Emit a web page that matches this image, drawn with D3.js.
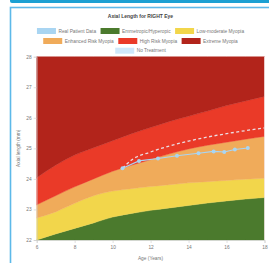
<!DOCTYPE html>
<html><head><meta charset="utf-8">
<script src="https://cdn.jsdelivr.net/npm/d3@7"></script>
<style>html,body{margin:0;padding:0;background:#fff;overflow:hidden}svg{display:block}</style>
</head><body>
<svg id="c" width="269" height="263"></svg>
<script>
const ages = [6,7,8,9,10,11,12,13,14,15,16,17,18];
const emmetropicTop = [22.0,22.2,22.38,22.56,22.75,22.87,22.97,23.05,23.13,23.21,23.28,23.34,23.39];
const lowModerateTop = [22.72,22.92,23.2,23.45,23.6,23.68,23.75,23.81,23.87,23.91,23.95,23.99,24.02];
const enhancedRiskTop = [23.15,23.45,23.74,24.0,24.25,24.45,24.63,24.82,24.98,25.1,25.2,25.3,25.39];
const highRiskTop = [24.04,24.45,24.78,25.02,25.25,25.48,25.68,25.88,26.05,26.22,26.4,26.55,26.7];
const patientAges = [10.52,11.39,12.39,13.39,14.52,15.32,15.88,16.44,17.12];
const patientValues = [24.35,24.59,24.67,24.76,24.84,24.90,24.88,24.96,25.01];
const noTreatAges = [10.52,11,12,13,14,15,16,17,18];
const noTreatValues = [24.35,24.62,24.88,25.08,25.24,25.37,25.48,25.58,25.67];
const xTicks = [6,8,10,12,14,16,18];
const yTicks = [22,23,24,25,26,27,28];
const legendRows = [
  [["Real Patient Data","#a9d5f2"],["Emmetropic/Hyperopic","#4b7a2d"],["Low-moderate Myopia","#f2d64b"]],
  [["Enhanced Risk Myopia","#f0ab5a"],["High Risk Myopia","#ea3a28"],["Extreme Myopia","#b2241b"]],
  [["No Treatment","#cfe8fb"]]
];
const title = "Axial Length for RIGHT Eye";

const svg = d3.select("#c");
const FONT = "Liberation Sans, Arial, sans-serif";
// page chrome
svg.append("rect").attr("x",10).attr("y",-4).attr("width",270).attr("height",7).attr("rx",2).attr("fill","#1aa0d3");
svg.append("rect").attr("x",10.5).attr("y",7.5).attr("width",270).attr("height",270).attr("fill","none").attr("stroke","#5db9e9").attr("stroke-width",1.6);

const x = d3.scaleLinear().domain([6,18]).range([36.7,264.5]);
const y = d3.scaleLinear().domain([22,28]).range([240,56.7]);

svg.append("text").attr("x",140.5).attr("y",17.5).attr("text-anchor","middle")
  .attr("font-family",FONT).attr("font-size",5).attr("font-weight","bold").attr("fill","#444").text(title);

// legend
const rowY = [31,41,50.7];
legendRows.forEach((row,ri)=>{
  const g = svg.append("g");
  let cx = 0;
  row.forEach(([label,color])=>{
    g.append("rect").attr("x",cx).attr("y",rowY[ri]-3).attr("width",19).attr("height",6).attr("fill",color);
    const t = g.append("text").attr("x",cx+21.5).attr("y",rowY[ri]+1.7).attr("font-family",FONT)
      .attr("font-size",4.8).attr("fill","#777").text(label);
    cx += 21.5 + t.node().getComputedTextLength() + 4.5;
  });
  const w = cx - 4.5;
  g.attr("transform",`translate(${140.5 - w/2},0)`);
});

// bands
const idx = d3.range(ages.length);
const area = (lo, hi) => d3.area().curve(d3.curveMonotoneX)
  .x(i=>x(ages[i])).y0(i=>y(lo(i))).y1(i=>y(hi(i)));
const bands = [
  [i=>22, i=>emmetropicTop[i], "#4b7a2d"],
  [i=>emmetropicTop[i], i=>lowModerateTop[i], "#f2d64b"],
  [i=>lowModerateTop[i], i=>enhancedRiskTop[i], "#f0ab5a"],
  [i=>enhancedRiskTop[i], i=>highRiskTop[i], "#ea3a28"],
  [i=>highRiskTop[i], i=>28, "#b2241b"]
];
bands.forEach(([lo,hi,c])=>{
  svg.append("path").datum(idx).attr("d",area(lo,hi)).attr("fill",c).attr("stroke",c).attr("stroke-width",0.4);
});

// axes
const xa = svg.append("g").attr("transform","translate(0,240)")
  .call(d3.axisBottom(x).tickValues(xTicks).tickFormat(d3.format("d")).tickSize(3).tickPadding(2.5));
const ya = svg.append("g").attr("transform","translate(36.7,0)")
  .call(d3.axisLeft(y).tickValues(yTicks).tickFormat(d3.format("d")).tickSize(3).tickPadding(2));
[xa,ya].forEach(a=>{
  a.select(".domain").attr("stroke","#ccc").attr("stroke-width",0.6);
  a.selectAll(".tick line").attr("stroke","#ccc").attr("stroke-width",0.6);
  a.selectAll("text").attr("font-family",FONT).attr("font-size",4.8).attr("fill","#777");
});
svg.append("line").attr("x1",264.5).attr("x2",264.5).attr("y1",56.7).attr("y2",240).attr("stroke","#f4e6e6").attr("stroke-width",0.8);

svg.append("text").attr("x",150.5).attr("y",260).attr("text-anchor","middle")
  .attr("font-family",FONT).attr("font-size",4.8).attr("fill","#777").text("Age (Years)");
svg.append("text").attr("transform","translate(19.5,148.3) rotate(-90)").attr("text-anchor","middle")
  .attr("font-family",FONT).attr("font-size",4.8).attr("fill","#777").text("Axial length (mm)");

// no treatment dashed
const nt = d3.range(noTreatAges.length);
svg.append("path").datum(nt).attr("d",d3.line().curve(d3.curveMonotoneX).x(i=>x(noTreatAges[i])).y(i=>y(noTreatValues[i])))
  .attr("fill","none").attr("stroke","#ececf4").attr("stroke-width",1.3).attr("stroke-dasharray","3,2.5").attr("opacity",0.92);

// patient data
const pd = d3.range(patientAges.length);
svg.append("path").datum(pd).attr("d",d3.line().x(i=>x(patientAges[i])).y(i=>y(patientValues[i])))
  .attr("fill","none").attr("stroke","#a9d5f2").attr("stroke-width",1.1);
svg.selectAll("circle.p").data(pd).enter().append("circle").attr("class","p")
  .attr("cx",i=>x(patientAges[i])).attr("cy",i=>y(patientValues[i])).attr("r",2)
  .attr("fill","#a9d5f2");
</script>
</body></html>
